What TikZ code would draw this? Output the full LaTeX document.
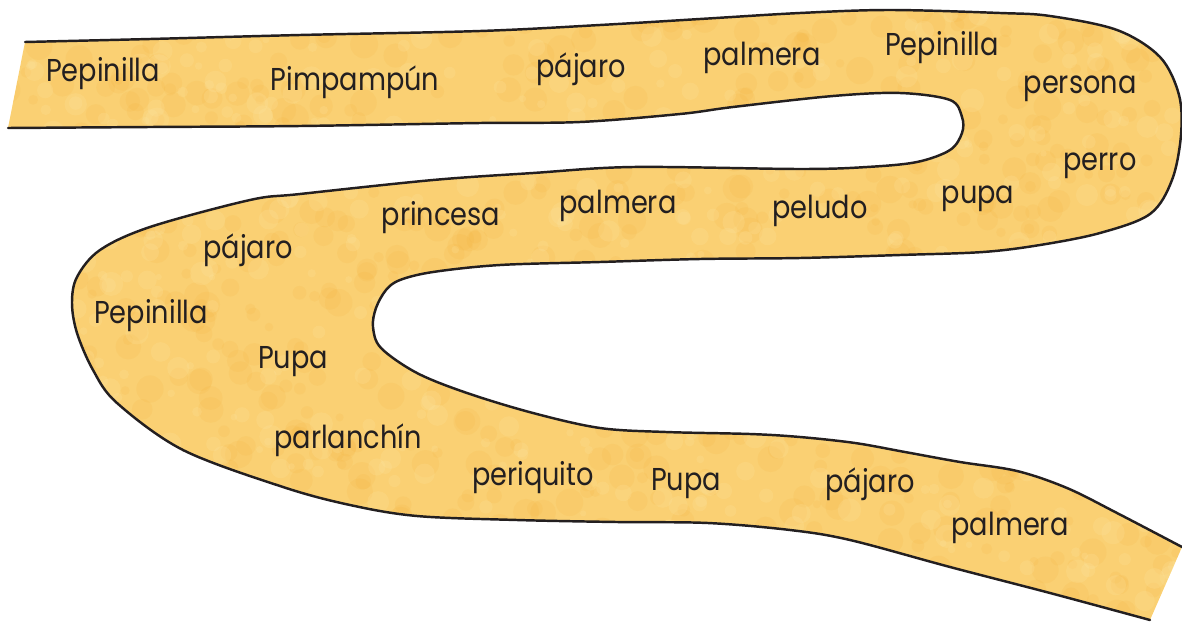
\documentclass[tikz,border=0pt]{standalone}
\usepackage{fontspec}
\newfontfamily\wordfont{Poppins}[FakeStretch=0.86]
\usetikzlibrary{positioning}

\definecolor{ink}{RGB}{35,31,32}
\definecolor{ribbonbase}{RGB}{250,208,115}
\definecolor{mottledark}{RGB}{243,172,50}
\definecolor{mottlelight}{RGB}{255,234,170}

% upper / right / inner edge of the ribbon, left end to right end
\def\pathA{plot[smooth, tension=0.55] coordinates {(25,42) (150,39) (300,35) (480,31) (600,25)
  (700,19) (800,13) (890,10) (1000,13) (1050,16) (1117,30) (1160,57) (1179,95) (1181,135)
  (1172,180) (1150,214) (1100,233) (1040,245) (983,252) (900,255) (800,258) (700,259)
  (600,262) (500,265) (433,272) (400,280) (386,290) (376,308) (373,327) (381,348) (417,373)
  (467,393) (533,413) (600,428) (666,432) (750,434) (800,437) (855,443) (905,452) (960,462)
  (1017,471) (1067,488) (1117,513) (1182,547)}}
% lower / left / outer edge of the ribbon, right end back to left end
\def\pathB{plot[smooth, tension=0.55] coordinates {(1150,620) (1050,593) (950,567) (850,540)
  (790,530) (708,523) (617,522) (517,520) (417,516) (350,505) (283,487) (183,450) (117,403)
  (93,370) (77,333) (72,303) (77,277) (100,250) (150,227) (250,200) (300,194) (433,180)
  (533,173) (633,167) (800,169) (867,167) (917,162) (950,150) (962,133) (962,117) (950,100)
  (900,93) (833,96) (733,107) (680,114) (580,122) (480,123) (300,126) (150,127) (8,128)}}
\edef\ribbonpath{\pathA -- \pathB -- cycle}

\begin{document}
\begin{tikzpicture}[
  x=0.02cm, y=-0.02cm,
  ribbon/.style={fill=ribbonbase},
  edge/.style={draw=ink, line width=1.4pt, line join=round, line cap=round},
  word/.style={font=\wordfont\fontsize{18}{20}\selectfont, text=ink, anchor=base, inner sep=0pt}
]
\useasboundingbox (0,0) rectangle (1182,622);

%--------------------------------------
% Ribbon with mottled fill
%--------------------------------------
\fill[ribbon] \ribbonpath;
\begin{scope}
  \clip \ribbonpath;
  \pgfmathsetseed{17}
  \foreach \i in {1,...,900}{
    \pgfmathsetmacro{\bx}{rnd*1182}
    \pgfmathsetmacro{\by}{rnd*622}
    \pgfmathsetmacro{\br}{4+rnd*10}
    \fill[mottledark, opacity=0.12] (\bx,\by) circle (\br);
  }
  \foreach \i in {1,...,700}{
    \pgfmathsetmacro{\bx}{rnd*1182}
    \pgfmathsetmacro{\by}{rnd*622}
    \pgfmathsetmacro{\br}{3+rnd*9}
    \fill[mottlelight, opacity=0.18] (\bx,\by) circle (\br);
  }
\end{scope}
\draw[edge] \pathA;
\draw[edge] \pathB;

%--------------------------------------
% Words along the ribbon
%--------------------------------------
\node[word] (pepinilla1) at (103,81) {Pepinilla};
\node[word] (pimpampun) at (355,90) {Pimpampún};
\node[word] (pajaro1) at (581,77) {pájaro};
\node[word] (palmera1) at (762,65) {palmera};
\node[word] (pepinilla2) at (942,55) {Pepinilla};
\node[word] (persona) at (1080,93) {persona};
\node[word] (perro) at (1100,170) {perro};
\node[word] (pupa1) at (978,203) {pupa};
\node[word] (peludo) at (820,218) {peludo};
\node[word] (palmera2) at (618,213) {palmera};
\node[word] (princesa) at (441,225) {princesa};
\node[word] (pajaro2) at (248,258) {pájaro};
\node[word] (pepinilla3) at (151,323) {Pepinilla};
\node[word] (pupa2) at (293,368) {Pupa};
\node[word] (parlanchin) at (348,448) {parlanchín};
\node[word] (periquito) at (533,485) {periquito};
\node[word] (pupa3) at (686,490) {Pupa};
\node[word] (pajaro3) at (870,492) {pájaro};
\node[word] (palmera3) at (1010,535) {palmera};

\end{tikzpicture}
\end{document}
